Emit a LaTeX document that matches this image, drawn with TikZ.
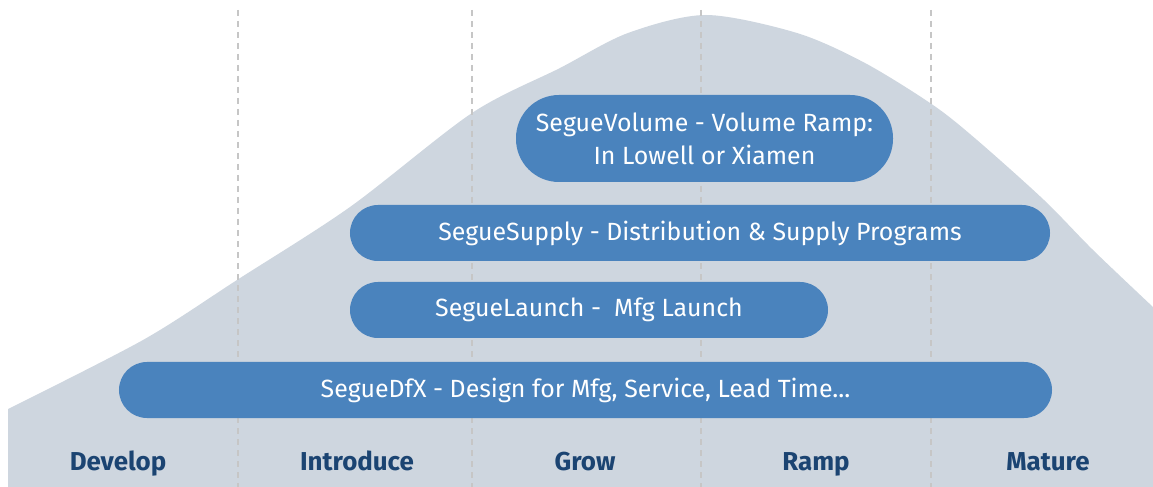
\documentclass[tikz,border=0pt]{standalone}
\usepackage{fontspec}
\setmainfont{Fira Sans}
\definecolor{curvegray}{HTML}{CED6DF}
\definecolor{pillblue}{HTML}{4A83BD}
\definecolor{phasenavy}{HTML}{1B4472}
\definecolor{gridgray}{HTML}{C6C6C6}
\tikzset{
  pill/.style={fill=pillblue, text=white, inner sep=0pt, align=center,
    font=\fontsize{25}{33}\selectfont},
  phase/.style={text=phasenavy, anchor=base, font=\bfseries\fontsize{26}{30}\selectfont},
  stagegrid/.style={gridgray, line width=2bp, dash pattern=on 6bp off 5bp},
}
\begin{document}
\begin{tikzpicture}[x=1bp, y=-1bp]
  \useasboundingbox (0,0) rectangle (1153,487);

  % life cycle curve
  \fill[curvegray] (8,487) -- (8,409)
    -- plot[smooth, tension=0.5] coordinates {(8,409) (143,340) (237,280) (350,207)
      (472,113) (560,68) (628,33) (706,15) (797,33) (865,63) (933,105) (977,140)
      (1044,200) (1093,250) (1153,307)}
    -- (1153,487) -- cycle;

  % stage borders
  \foreach \x/\n in {238/a, 472/b, 701/c, 931/d} {
    \coordinate (top\n) at (\x,10);
    \coordinate (bot\n) at (\x,487);
    \draw[stagegrid] (top\n) -- (bot\n);
  }

  % programs
  \node[pill, minimum width=377bp, minimum height=87bp, rounded corners=43bp]
    (volume) at (704.5,138.5) {SegueVolume - Volume Ramp:\\In Lowell or Xiamen};
  \node[pill, minimum width=700bp, minimum height=56bp, rounded corners=28bp]
    (supply) at (700,233) {SegueSupply - Distribution \& Supply Programs};
  \node[pill, minimum width=478bp, minimum height=56bp, rounded corners=28bp]
    (launch) at (589,310) {SegueLaunch -\ \ Mfg Launch};
  \node[pill, minimum width=933bp, minimum height=56bp, rounded corners=28bp]
    (dfx) at (585.5,390) {SegueDfX - Design for Mfg, Service, Lead Time...};

  % phases
  \node[phase] (develop) at (118,470) {Develop};
  \node[phase] (introduce) at (357,470) {Introduce};
  \node[phase] (grow) at (585,470) {Grow};
  \node[phase] (ramp) at (816,470) {Ramp};
  \node[phase] (mature) at (1048,470) {Mature};
\end{tikzpicture}
\end{document}
